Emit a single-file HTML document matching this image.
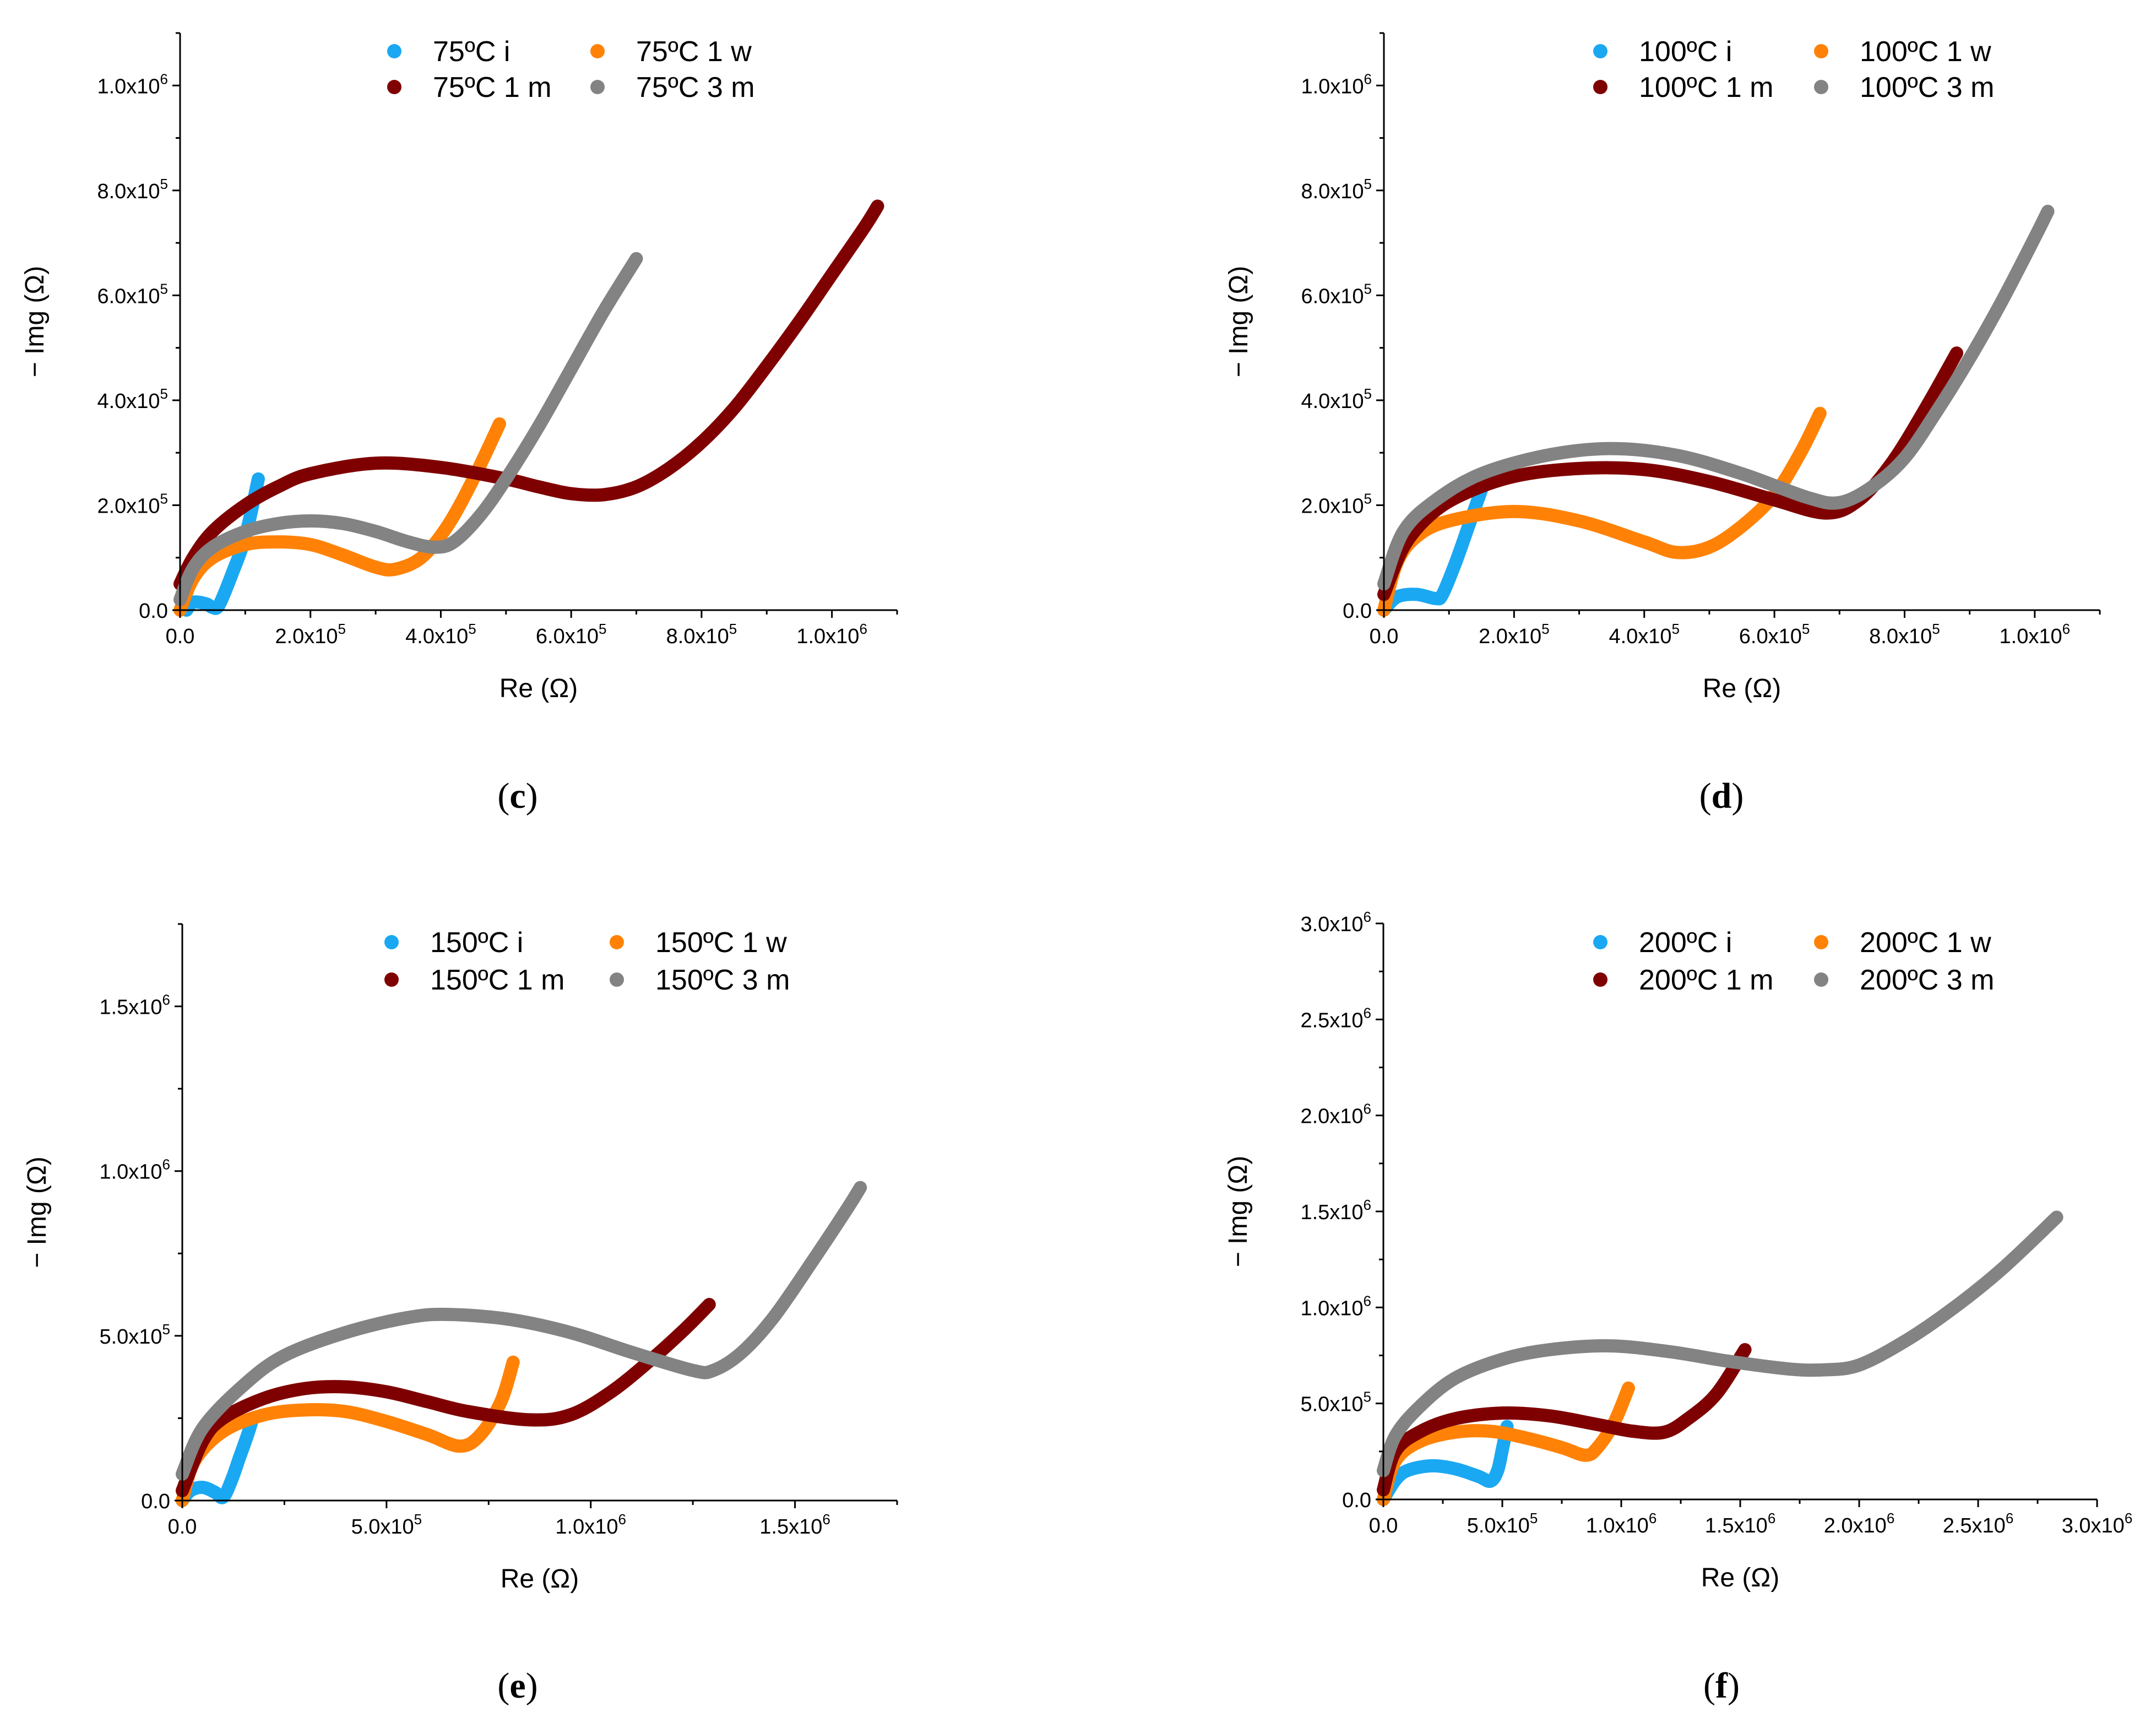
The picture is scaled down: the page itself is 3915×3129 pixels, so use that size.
<!DOCTYPE html>
<html><head><meta charset="utf-8"><style>
html,body{margin:0;padding:0;background:#fff}
svg{display:block}
text{font-family:"Liberation Sans",sans-serif;fill:#000}
.cap{font-family:"Liberation Serif",serif}
</style></head><body>
<svg id="fig" width="3915" height="3129" viewBox="0 0 3915 3129" xmlns="http://www.w3.org/2000/svg"></svg>
<script>
// Data (units: 1e5 ohm) — x then y per series
const seriesNames = ["i","1 w","1 m","3 m"];
const cI_x=[0.1,0.2,0.4,0.5,0.6,0.8,1.0,1.2];
const cI_y=[0,0.15,0.12,0.05,0.1,0.7,1.4,2.5];
const cW_x=[0,0.2,0.5,1.0,1.5,2.0,2.5,3.0,3.3,3.7,4.1,4.5,4.9];
const cW_y=[0,0.6,1.0,1.25,1.3,1.25,1.05,0.82,0.78,1.0,1.6,2.5,3.55];
const cM_x=[0,0.2,0.5,1.0,1.5,2.0,3.0,4.0,5.0,5.5,6.0,6.5,7.0,7.5,8.0,8.5,9.0,9.5,10.0,10.5,10.7];
const cM_y=[0.5,1.0,1.5,2.0,2.35,2.6,2.8,2.72,2.5,2.35,2.22,2.2,2.35,2.7,3.2,3.85,4.65,5.5,6.4,7.3,7.7];
const c3_x=[0,0.2,0.5,1.0,1.5,2.0,2.5,3.0,3.5,3.9,4.2,4.6,5.0,5.5,6.0,6.5,7.0];
const c3_y=[0.2,0.8,1.2,1.5,1.65,1.7,1.65,1.5,1.3,1.2,1.3,1.8,2.5,3.5,4.6,5.7,6.7];

const dI_x=[0,0.2,0.5,0.8,0.9,1.1,1.3,1.5];
const dI_y=[0,0.25,0.3,0.22,0.3,0.9,1.6,2.3];
const dW_x=[0,0.2,0.5,1.0,2.0,3.0,4.0,4.5,5.0,5.5,6.0,6.4,6.7];
const dW_y=[0,0.9,1.4,1.7,1.88,1.7,1.3,1.1,1.2,1.6,2.2,3.0,3.75];
const dM_x=[0,0.3,0.7,1.2,2.0,3.0,4.0,5.0,6.0,6.8,7.3,7.8,8.3,8.8];
const dM_y=[0.3,1.2,1.8,2.2,2.55,2.7,2.68,2.45,2.1,1.85,2.1,2.8,3.8,4.9];
const d3_x=[0,0.3,0.8,1.5,2.5,3.5,4.5,5.5,6.5,7.0,7.5,8.0,8.5,9.0,9.5,10.0,10.2];
const d3_y=[0.5,1.5,2.1,2.6,2.95,3.08,2.95,2.6,2.15,2.05,2.35,2.9,3.8,4.8,5.9,7.1,7.6];

const eI_x=[0,0.2,0.5,0.8,1.0,1.2,1.4,1.6,1.7];
const eI_y=[0,0.3,0.4,0.25,0.1,0.6,1.3,2.0,2.4];
const eW_x=[0,0.3,1,2,3,4,5,6,6.8,7.3,7.8,8.1];
const eW_y=[0,1.2,2.1,2.6,2.75,2.7,2.4,2.0,1.65,2.0,3.0,4.2];
const eM_x=[0,0.5,1,2,3,4,5,6,7,8.5,9.5,10.5,11.5,12.3,12.9];
const eM_y=[0.3,1.8,2.5,3.1,3.4,3.45,3.3,3.0,2.7,2.45,2.6,3.3,4.3,5.2,5.95];
const e3_x=[0,0.5,1.5,2.5,4,5.5,6.5,8,9.5,11,12.5,13,13.7,14.5,15.5,16.3,16.6];
const e3_y=[0.8,2.2,3.5,4.4,5.1,5.55,5.65,5.5,5.1,4.5,3.95,3.95,4.5,5.6,7.4,8.9,9.5];

const fI_x=[0,0.5,1.0,2.0,3.0,4.0,4.5,4.8,5.0,5.2];
const fI_y=[0,1.0,1.5,1.75,1.6,1.2,0.95,1.5,2.6,3.8];
const fW_x=[0,0.5,1.5,3,4.5,6,7.5,8.5,9.0,9.7,10.3];
const fW_y=[0,2.0,3.0,3.5,3.55,3.2,2.7,2.3,2.7,4.0,5.8];
const fM_x=[0,0.5,1.5,3,5,7,9,10.5,11.8,12.8,14,15.2];
const fM_y=[0.5,2.5,3.5,4.2,4.5,4.35,3.9,3.55,3.5,4.2,5.5,7.8];
const f3_x=[0,0.5,1.5,3,5,7,9.5,12,14.5,17,18.5,20,22,24,26,28.3];
const f3_y=[1.5,3.3,4.8,6.3,7.3,7.8,8.0,7.7,7.2,6.8,6.75,7.0,8.3,10.0,12.0,14.7];

const colors=["#1ba8f2","#ff8207","#7f0000","#838383"];
const NS="http://www.w3.org/2000/svg";
const svg=document.getElementById("fig");
function mk(tag,attrs,parent){const e=document.createElementNS(NS,tag);for(const k in attrs)e.setAttribute(k,attrs[k]);(parent||svg).appendChild(e);return e;}
function lab(v){ if(v===0) return null; const exp=Math.floor(Math.log10(v)+1e-9); return [(v/Math.pow(10,exp)).toFixed(1),exp]; }
function smooth(P){
  let d="M"+P[0][0].toFixed(1)+","+P[0][1].toFixed(1);
  for(let i=0;i<P.length-1;i++){
    const p0=P[Math.max(0,i-1)],p1=P[i],p2=P[i+1],p3=P[Math.min(P.length-1,i+2)];
    const c1=[p1[0]+(p2[0]-p0[0])/6,p1[1]+(p2[1]-p0[1])/6];
    const c2=[p2[0]-(p3[0]-p1[0])/6,p2[1]-(p3[1]-p1[1])/6];
    d+=`C${c1[0].toFixed(1)},${c1[1].toFixed(1)} ${c2[0].toFixed(1)},${c2[1].toFixed(1)} ${p2[0].toFixed(1)},${p2[1].toFixed(1)}`;
  }
  return d;
}

const panels=[
 {id:"c",temp:"75",x0:327,x1:1629,y0:1108,y1:60,xmax:11,ymax:11,xstep:2,ystep:2,xminor:1,yminor:1,
  data:[[cI_x,cI_y],[cW_x,cW_y],[cM_x,cM_y],[c3_x,c3_y]],leg:[716,1085],legy:[93,158],cap:[940,1445]},
 {id:"d",temp:"100",x0:2513,x1:3813,y0:1108,y1:60,xmax:11,ymax:11,xstep:2,ystep:2,xminor:1,yminor:1,
  data:[[dI_x,dI_y],[dW_x,dW_y],[dM_x,dM_y],[d3_x,d3_y]],leg:[2906,3307],legy:[93,158],cap:[3126,1445]},
 {id:"e",temp:"150",x0:331,x1:1629,y0:2725,y1:1678,xmax:17.5,ymax:17.5,xstep:5,ystep:5,xminor:2.5,yminor:2.5,
  data:[[eI_x,eI_y],[eW_x,eW_y],[eM_x,eM_y],[e3_x,e3_y]],leg:[711,1120],legy:[1711,1779],cap:[940,3061]},
 {id:"f",temp:"200",x0:2512,x1:3808,y0:2723,y1:1677,xmax:30,ymax:30,xstep:5,ystep:5,xminor:2.5,yminor:2.5,
  data:[[fI_x,fI_y],[fW_x,fW_y],[fM_x,fM_y],[f3_x,f3_y]],leg:[2906,3307],legy:[1711,1779],cap:[3126,3061]}
];

panels.forEach(p=>{
  const g=mk("g",{});
  
  
  const sx=v=>p.x0+(v/p.xmax)*(p.x1-p.x0);
  const sy=v=>p.y0-(v/p.ymax)*(p.y0-p.y1);
  p.data.forEach((s,i)=>{
    const P=s[0].map((x,k)=>[sx(x),sy(s[1][k])]);
    const pl=mk("path",{d:smooth(P),fill:"none",stroke:colors[i],"stroke-width":24,"stroke-linecap":"round","stroke-linejoin":"round"},g);
    
    
  });
  const ax=mk("path",{d:`M${p.x0},${p.y1}V${p.y0}H${p.x1}`,fill:"none",stroke:"#000","stroke-width":3},g);
  
  
  for(let v=0;v<=p.xmax+1e-9;v+=p.xminor){
    const major=Math.abs(v/p.xstep-Math.round(v/p.xstep))<1e-6;
    mk("line",{x1:sx(v),x2:sx(v),y1:p.y0,y2:p.y0+(major?14:8),stroke:"#000","stroke-width":3},g);
    if(major){
      const t=mk("text",{x:sx(v),y:p.y0+60,"font-size":38,"text-anchor":"middle"},g);
      
      
      const L=lab(v*1e5);
      if(!L) t.textContent="0.0"; else {t.textContent=L[0]+"x10"; const sp=mk("tspan",{"font-size":26,dy:-17},t); sp.textContent=L[1];}
    }
  }
  for(let v=0;v<=p.ymax+1e-9;v+=p.yminor){
    const major=Math.abs(v/p.ystep-Math.round(v/p.ystep))<1e-6;
    mk("line",{x1:p.x0,x2:p.x0-(major?14:8),y1:sy(v),y2:sy(v),stroke:"#000","stroke-width":3},g);
    if(major){
      const t=mk("text",{x:p.x0-22,y:sy(v)+14,"font-size":38,"text-anchor":"end"},g);
      
      
      const L=lab(v*1e5);
      if(!L) t.textContent="0.0"; else {t.textContent=L[0]+"x10"; const sp=mk("tspan",{"font-size":26,dy:-17},t); sp.textContent=L[1]; }
    }
  }
  const xt=mk("text",{x:(p.x0+p.x1)/2,y:p.y0+158,"font-size":48,"text-anchor":"middle"},g);
  xt.textContent="Re (Ω)";
  
  
  const yc=(p.y0+p.y1)/2;
  const yx=p.x0-248;
  const yt=mk("text",{x:yx,y:yc,"font-size":48,"text-anchor":"middle",transform:`rotate(-90 ${yx} ${yc})`},g);
  yt.textContent="− Img (Ω)";
  
  
  seriesNames.forEach((n,i)=>{
    const col=i%2, row=Math.floor(i/2);
    const lx=p.leg[col], ly=p.legy[row];
    const c=mk("circle",{cx:lx,cy:ly,r:13,fill:colors[i]},g);
    
    
    const t=mk("text",{x:lx+70,y:ly+18,"font-size":52},g);
    t.textContent=p.temp+"ºC "+n;
    
    
  });
  const cp=mk("text",{x:p.cap[0],y:p.cap[1]+22,"font-size":66,"text-anchor":"middle",class:"cap"},g);
  cp.innerHTML="(<tspan font-weight='bold'>"+p.id+"</tspan>)";
  
  
});
</script>
</body></html>
